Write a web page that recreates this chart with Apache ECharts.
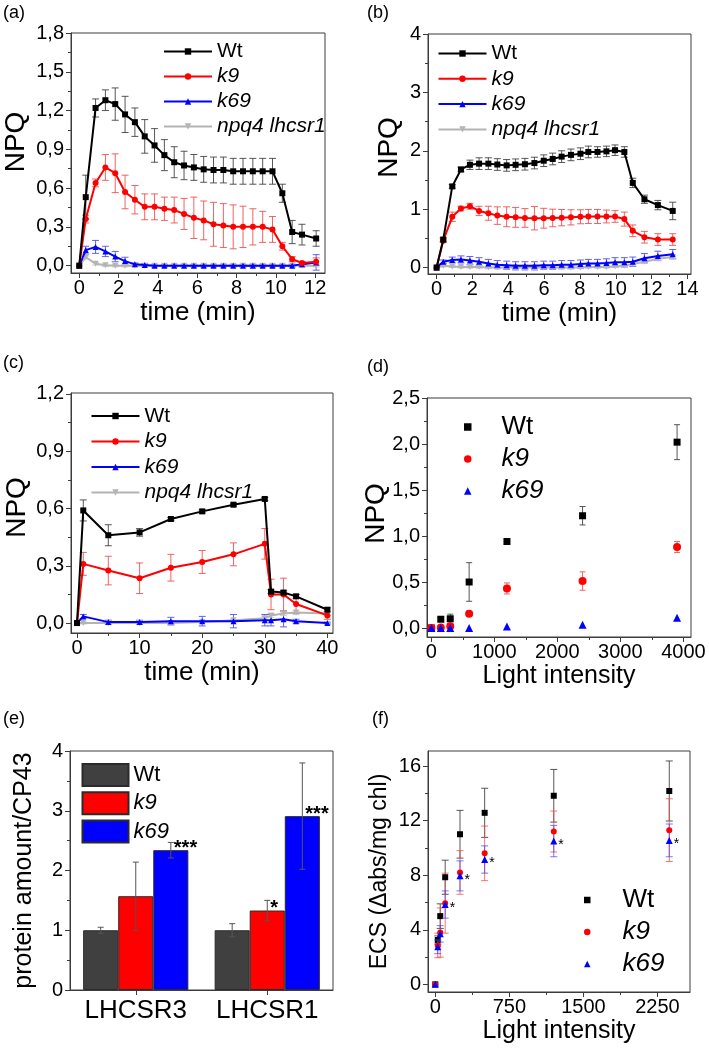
<!DOCTYPE html>
<html><head><meta charset="utf-8">
<script src="https://cdn.jsdelivr.net/npm/echarts@6/dist/echarts.min.js"></script>
<style>html,body{margin:0;padding:0;background:#fff}#c{width:709px;height:1051px}</style>
</head><body><div id="c"></div>
<script>
// ================= DATA =================
// (a) NPQ kinetics, time (min)
const a_time   = [0, 0.33, 0.83, 1.33, 1.83, 2.33, 2.83, 3.33, 3.83, 4.33, 4.83, 5.33, 5.83, 6.33, 6.83, 7.33, 7.83, 8.33, 8.83, 9.33, 9.83, 10.33, 10.83, 11.33, 12.05];
const a_wt     = [0, 0.53, 1.22, 1.28, 1.25, 1.17, 1.11, 1.00, 0.93, 0.855, 0.80, 0.775, 0.76, 0.745, 0.74, 0.74, 0.73, 0.73, 0.73, 0.73, 0.73, 0.56, 0.26, 0.24, 0.21];
const a_wt_err = [0, 0.17, 0.07, 0.08, 0.125, 0.14, 0.11, 0.13, 0.13, 0.12, 0.12, 0.11, 0.1, 0.1, 0.1, 0.1, 0.1, 0.1, 0.1, 0.1, 0.1, 0.07, 0.09, 0.08, 0.06];
const a_k9     = [0, 0.36, 0.64, 0.76, 0.715, 0.57, 0.51, 0.455, 0.455, 0.44, 0.43, 0.40, 0.37, 0.35, 0.32, 0.31, 0.30, 0.30, 0.30, 0.30, 0.28, 0.15, 0.05, 0.02, 0.03];
const a_k9_err = [0, 0.03, 0.03, 0.1, 0.15, 0.13, 0.11, 0.1, 0.1, 0.09, 0.1, 0.12, 0.16, 0.15, 0.17, 0.17, 0.17, 0.16, 0.14, 0.12, 0.1, 0.03, 0.02, 0.01, 0.03];
const a_k69    = [0, 0.12, 0.145, 0.11, 0.07, 0.035, 0.01, 0.005, 0, 0, 0, 0, 0, 0, 0, 0, 0, 0, 0, 0, 0, 0, 0, 0.01, 0.025];
const a_k69_err= [0, 0.03, 0.05, 0.04, 0.04, 0.03, 0.01, 0.01, 0.01, 0.01, 0.01, 0.01, 0.01, 0.01, 0.01, 0.01, 0.01, 0.01, 0.01, 0.01, 0.01, 0.01, 0.01, 0.02, 0.06];
const a_npq4   = [0, 0.065, 0.015, 0.003, 0, 0, 0, 0, 0, 0, 0, 0, 0, 0, 0, 0, 0, 0, 0, 0, 0, 0, 0, 0, 0];
const a_npq4_err=[0, 0.01, 0.01, 0.01, 0.01, 0.01, 0.01, 0.01, 0.01, 0.01, 0.01, 0.01, 0.01, 0.01, 0.01, 0.01, 0.01, 0.01, 0.01, 0.01, 0.01, 0.01, 0.01, 0.01, 0.01];

// (b) NPQ kinetics, time (min)
const b_time   = [0, 0.37, 0.875, 1.36, 1.86, 2.37, 2.89, 3.39, 3.91, 4.41, 4.93, 5.46, 5.98, 6.48, 6.98, 7.5, 8.03, 8.47, 8.98, 9.48, 9.96, 10.48, 10.95, 11.6, 12.35, 13.18];
const b_wt     = [0, 0.48, 1.39, 1.68, 1.76, 1.78, 1.78, 1.765, 1.75, 1.76, 1.77, 1.79, 1.83, 1.86, 1.90, 1.93, 1.95, 1.98, 1.98, 1.99, 2.01, 1.98, 1.45, 1.17, 1.07, 0.97];
const b_wt_err = [0, 0.03, 0.03, 0.04, 0.08, 0.1, 0.1, 0.1, 0.1, 0.1, 0.1, 0.1, 0.1, 0.1, 0.1, 0.1, 0.1, 0.1, 0.09, 0.09, 0.09, 0.09, 0.08, 0.07, 0.08, 0.15];
const b_k9     = [0, 0.46, 0.87, 1.01, 1.05, 0.97, 0.93, 0.89, 0.87, 0.86, 0.85, 0.845, 0.845, 0.85, 0.855, 0.86, 0.87, 0.875, 0.875, 0.875, 0.875, 0.83, 0.63, 0.52, 0.48, 0.48];
const b_k9_err = [0, 0.03, 0.08, 0.04, 0.05, 0.08, 0.12, 0.15, 0.17, 0.17, 0.16, 0.2, 0.17, 0.15, 0.14, 0.13, 0.12, 0.12, 0.12, 0.11, 0.1, 0.12, 0.1, 0.1, 0.1, 0.1];
const b_k69    = [0, 0.1, 0.13, 0.14, 0.12, 0.1, 0.07, 0.05, 0.04, 0.03, 0.03, 0.03, 0.04, 0.04, 0.05, 0.05, 0.06, 0.07, 0.07, 0.08, 0.09, 0.09, 0.1, 0.16, 0.2, 0.23];
const b_k69_err= [0, 0.03, 0.05, 0.06, 0.07, 0.07, 0.07, 0.07, 0.07, 0.07, 0.07, 0.07, 0.07, 0.07, 0.07, 0.07, 0.07, 0.07, 0.07, 0.07, 0.08, 0.08, 0.08, 0.08, 0.08, 0.08];
const b_npq4   = [0, 0.03, 0.02, 0.01, 0.01, 0.01, 0, 0, 0, 0, 0, 0, 0, 0, 0, 0, 0, 0.01, 0.01, 0.01, 0.02, 0.03, 0.06, 0.1, 0.15, 0.18];
const b_npq4_err=[0, 0.02, 0.02, 0.02, 0.02, 0.02, 0.02, 0.02, 0.02, 0.02, 0.02, 0.02, 0.02, 0.02, 0.02, 0.02, 0.02, 0.02, 0.02, 0.02, 0.02, 0.02, 0.03, 0.03, 0.03, 0.03];

// (c) NPQ kinetics, time (min)
const c_time   = [0, 1, 5, 10, 15, 20, 25, 30, 31, 33, 35, 40];
const c_wt     = [0, 0.59, 0.46, 0.475, 0.545, 0.585, 0.62, 0.65, 0.165, 0.16, 0.14, 0.07];
const c_wt_err = [0, 0.055, 0.055, 0.02, 0.008, 0.008, 0.008, 0.008, 0.01, 0.01, 0.01, 0.01];
const c_k9     = [0, 0.31, 0.275, 0.235, 0.29, 0.32, 0.36, 0.415, 0.15, 0.15, 0.10, 0.04];
const c_k9_err = [0, 0.06, 0.075, 0.08, 0.07, 0.06, 0.06, 0.08, 0.08, 0.085, 0.05, 0.02];
const c_k69    = [0, 0.035, 0.005, 0.005, 0.01, 0.01, 0.01, 0.015, 0.015, 0.02, 0.01, 0];
const c_k69_err= [0, 0.01, 0.01, 0.01, 0.02, 0.025, 0.035, 0.03, 0.03, 0.04, 0.01, 0.005];
const c_npq4   = [0, 0, 0, 0, 0, 0.005, 0.015, 0.025, 0.04, 0.05, 0.055, 0.05];
const c_npq4_err=[0, 0.005, 0.005, 0.005, 0.005, 0.005, 0.005, 0.01, 0.01, 0.01, 0.01, 0.01];

// (d) NPQ vs light intensity
const d_light  = [0, 150, 300, 600, 1200, 2400, 3900];
const d_wt     = [0, 0.095, 0.10, 0.50, 0.94, 1.22, 2.02];
const d_wt_err = [0, 0.02, 0.05, 0.21, 0.03, 0.1, 0.19];
const d_k9     = [0, 0.005, 0.02, 0.155, 0.43, 0.51, 0.88];
const d_k9_err = [0, 0.01, 0.02, 0.02, 0.06, 0.1, 0.06];
const d_k69    = [0, 0, 0, 0, 0.015, 0.035, 0.11];

// (e) protein amount / CP43
const e_categories = ['LHCSR3', 'LHCSR1'];
const e_wt      = [1.0, 1.0];
const e_wt_err  = [0.05, 0.11];
const e_k9      = [1.57, 1.33];
const e_k9_err  = [0.57, 0.17];
const e_k69     = [2.34, 2.91];
const e_k69_err = [0.13, 0.89];
const e_wt_sig  = ['', ''];
const e_k9_sig  = ['', '*'];
const e_k69_sig = ['***', '***'];

// (f) ECS vs light intensity
const f_light   = [0, 25, 50, 100, 250, 500, 1200, 2370];
const f_wt      = [0, 3.25, 5.0, 7.85, 11.0, 12.57, 13.82, 14.17];
const f_wt_err  = [0, 0.3, 0.9, 1.25, 1.75, 1.8, 1.93, 2.2];
const f_k9      = [0, 2.85, 3.8, 5.95, 8.2, 9.6, 11.2, 11.3];
const f_k9_err  = [0, 0.9, 1.8, 2.2, 1.6, 2.0, 1.5, 2.3];
const f_k69     = [0, 2.75, 3.7, 5.85, 7.95, 9.15, 10.5, 10.55];
const f_k69_err = [0, 0.5, 0.6, 1.0, 1.1, 1.0, 1.15, 1.2];
const f_k69_sig = ['', '', '', '*', '*', '*', '*', '*'];

// tick values
const a_xticks = [0, 2, 4, 6, 8, 10, 12], a_xminor = [1, 3, 5, 7, 9, 11];
const a_yticks = [0, 0.3, 0.6, 0.9, 1.2, 1.5, 1.8], a_yminor = [0.15, 0.45, 0.75, 1.05, 1.35, 1.65];
const b_xticks = [0, 2, 4, 6, 8, 10, 12, 14], b_xminor = [1, 3, 5, 7, 9, 11, 13];
const b_yticks = [0, 1, 2, 3, 4], b_yminor = [0.5, 1.5, 2.5, 3.5];
const c_xticks = [0, 10, 20, 30, 40], c_xminor = [5, 15, 25, 35];
const c_yticks = [0, 0.3, 0.6, 0.9, 1.2], c_yminor = [0.15, 0.45, 0.75, 1.05];
const d_xticks = [0, 1000, 2000, 3000, 4000], d_xminor = [500, 1500, 2500, 3500];
const d_yticks = [0, 0.5, 1.0, 1.5, 2.0, 2.5], d_yminor = [0.25, 0.75, 1.25, 1.75, 2.25];
const e_yticks = [0, 1, 2, 3, 4], e_yminor = [0.5, 1.5, 2.5, 3.5];
const f_xticks = [0, 750, 1500, 2250], f_xminor = [375, 1125, 1875];
const f_yticks = [0, 4, 8, 12, 16], f_yminor = [2, 6, 10, 14];

// ================= BUILD =================
const FONT = "'Liberation Sans', Arial, Helvetica, sans-serif";
const AX = '#3c3c3c';
const COL = { Wt: '#000000', k9: '#ff0000', k69: '#0000ff', npq4: '#b4b4b4' };
const ERR = { Wt: '#3a3a3a', k9: '#f04848', k69: '#4848f0', npq4: '#c4c4c4' };

const comma1 = v => v.toFixed(1).replace('.', ',');
const intf = v => String(Math.round(v));

const xAxes = [], yAxes = [], series = [], legends = [], grids = [], titles = [];

function addValueAxis(list, dim, gi, o) {
  const pos = dim === 'x' ? 'bottom' : 'left';
  const idx = list.length;
  list.push({
    type: 'value', gridIndex: gi, min: o.min, max: o.max, position: pos,
    axisLine: { show: true, onZero: false, lineStyle: { color: AX, width: 1 } },
    axisTick: { show: true, inside: false, length: 5, customValues: o.ticks, lineStyle: { color: AX, width: 1 } },
    axisLabel: { show: true, customValues: o.ticks, formatter: o.fmt, fontSize: 20, fontWeight: 'normal', fontFamily: FONT, color: '#000', margin: dim === 'x' ? 5 : 7, hideOverlap: false },
    splitLine: { show: false },
    name: o.name, nameLocation: 'middle', nameGap: o.nameGap, nameMoveOverlap: false,
    nameTextStyle: { fontSize: o.nameSize, fontWeight: 'normal', fontFamily: FONT, color: '#000', padding: o.namePad || 0 }
  });
  list.push({
    type: 'value', gridIndex: gi, min: o.min, max: o.max, position: pos,
    axisLine: { show: false, onZero: false },
    axisTick: { show: true, inside: false, length: 3, customValues: o.minor, lineStyle: { color: AX, width: 1 } },
    axisLabel: { show: false }, splitLine: { show: false }
  });
  return idx;
}

function errBar(color, cap, opacity, barIdx) {
  return function (params, api) {
    const x = api.value(0), y = api.value(1), e = api.value(2);
    if (!e) return null;
    let dx = 0;
    if (barIdx !== undefined) {
      const bw = api.size([1, 0])[0] * 0.8 / 3;
      dx = (barIdx - 1) * bw;
    }
    const p1 = api.coord([x, y - e]), p2 = api.coord([x, y + e]);
    const st = { stroke: color, lineWidth: 1, opacity: opacity };
    const cx = p1[0] + dx;
    return { type: 'group', children: [
      { type: 'line', shape: { x1: cx, y1: p1[1], x2: cx, y2: p2[1] }, style: st },
      { type: 'line', shape: { x1: cx - cap / 2, y1: p1[1], x2: cx + cap / 2, y2: p1[1] }, style: st },
      { type: 'line', shape: { x1: cx - cap / 2, y1: p2[1], x2: cx + cap / 2, y2: p2[1] }, style: st }
    ] };
  };
}

function legendFmt(name) {
  const b = name.split('#')[0];
  return b === 'Wt' ? '{n|' + b + '}' : '{i|' + b + '}';
}
function legendText(size, padLeft) {
  const pad = [0, 0, 0, padLeft || 0];
  return { fontSize: size, lineHeight: size, fontFamily: FONT, fontWeight: 'normal', color: '#000',
    rich: { n: { fontSize: size, lineHeight: size, fontFamily: FONT, fontWeight: 'normal', color: '#000', padding: pad },
            i: { fontSize: size, lineHeight: size, fontFamily: FONT, fontWeight: 'normal', color: '#000', fontStyle: 'italic', padding: pad } } };
}

function addTitle(text, left, top) {
  titles.push({ text: text, left: left, top: top, padding: 0,
    textStyle: { fontSize: 18, fontWeight: 'normal', fontFamily: FONT, color: '#000' } });
}

// ---- line panels (a), (b), (c) ----
function linePanel(key, grid, xo, yo, xs, sets, leg) {
  const gi = grids.length;
  grids.push(Object.assign({ show: true, borderColor: AX, borderWidth: 1, backgroundColor: 'transparent', outerBoundsMode: 'none' }, grid));
  const xi = addValueAxis(xAxes, 'x', gi, xo);
  const yi = addValueAxis(yAxes, 'y', gi, yo);
  sets.forEach(function (s, k) {
    series.push({ type: 'custom', name: 'err', xAxisIndex: xi, yAxisIndex: yi, silent: true, z: 2,
      data: xs.map((x, i) => [x, s.vals[i], s.errs[i]]), encode: { x: 0, y: 1 },
      renderItem: errBar(ERR[s.c], 7, 0.85) });
    series.push({ type: 'line', name: s.name + '#' + key, xAxisIndex: xi, yAxisIndex: yi, silent: true, z: 3 + s.z,
      data: xs.map((x, i) => [x, s.vals[i]]), symbol: s.symbol, symbolRotate: s.rot || 0, symbolSize: 6,
      showAllSymbol: true, lineStyle: { color: COL[s.c], width: 2 }, itemStyle: { color: COL[s.c] } });
  });
  legends.push(Object.assign({ orient: 'vertical', itemWidth: 48, itemHeight: 8, padding: 0, selectedMode: false,
    data: sets.map(s => s.name + '#' + key), formatter: legendFmt, textStyle: legendText(21) }, leg));
}

function npqSets(wt, wte, k9, k9e, k69, k69e, n4, n4e) {
  return [
    { name: 'Wt', c: 'Wt', vals: wt, errs: wte, symbol: 'rect', z: 3 },
    { name: 'k9', c: 'k9', vals: k9, errs: k9e, symbol: 'circle', z: 2 },
    { name: 'k69', c: 'k69', vals: k69, errs: k69e, symbol: 'triangle', z: 1 },
    { name: 'npq4 lhcsr1', c: 'npq4', vals: n4, errs: n4e, symbol: 'triangle', rot: 180, z: 0 }
  ];
}

linePanel('a', { left: 71, top: 33, width: 254, height: 240 },
  { min: -0.42, max: 12.5, ticks: a_xticks, minor: a_xminor, fmt: intf, name: 'time (min)', nameGap: 27, nameSize: 26 },
  { min: -0.057, max: 1.8, ticks: a_yticks, minor: a_yminor, fmt: comma1, name: 'NPQ', nameGap: 41, nameSize: 28, namePad: [0, 0, 0, 22] },
  a_time, npqSets(a_wt, a_wt_err, a_k9, a_k9_err, a_k69, a_k69_err, a_npq4, a_npq4_err),
  { left: 163, top: 41, itemGap: 4 });

linePanel('b', { left: 428, top: 34, width: 263, height: 240 },
  { min: -0.48, max: 14.2, ticks: b_xticks, minor: b_xminor, fmt: intf, name: 'time (min)', nameGap: 27, nameSize: 26 },
  { min: -0.11, max: 4.0, ticks: b_yticks, minor: b_yminor, fmt: intf, name: 'NPQ', nameGap: 25, nameSize: 28, namePad: [0, 0, 0, 13] },
  b_time, npqSets(b_wt, b_wt_err, b_k9, b_k9_err, b_k69, b_k69_err, b_npq4, b_npq4_err),
  { left: 437.5, top: 43, itemGap: 4.3 });

linePanel('c', { left: 71, top: 393, width: 262, height: 240 },
  { min: -0.96, max: 40.9, ticks: c_xticks, minor: c_xminor, fmt: intf, name: 'time (min)', nameGap: 27, nameSize: 26 },
  { min: -0.052, max: 1.205, ticks: c_yticks, minor: c_yminor, fmt: comma1, name: 'NPQ', nameGap: 40, nameSize: 28, namePad: [0, 0, 0, 11] },
  c_time, npqSets(c_wt, c_wt_err, c_k9, c_k9_err, c_k69, c_k69_err, c_npq4, c_npq4_err),
  { left: 90.5, top: 405.5, itemGap: 4.5 });

// ---- scatter panels (d), (f) ----
function scatterPanel(key, grid, xo, yo, xs, sets, leg, cap, padLeft) {
  const gi = grids.length;
  grids.push(Object.assign({ show: true, borderColor: AX, borderWidth: 1, backgroundColor: 'transparent', outerBoundsMode: 'none' }, grid));
  const xi = addValueAxis(xAxes, 'x', gi, xo);
  const yi = addValueAxis(yAxes, 'y', gi, yo);
  sets.forEach(function (s) {
    if (s.errs) {
      series.push({ type: 'custom', name: 'err', xAxisIndex: xi, yAxisIndex: yi, silent: true, z: 2 + s.z,
        data: xs.map((x, i) => [x, s.vals[i], s.errs[i]]), encode: { x: 0, y: 1 },
        renderItem: errBar(ERR[s.c], cap, s.errOp || 0.85) });
    }
    const ser = { type: 'scatter', name: s.name + '#' + key, xAxisIndex: xi, yAxisIndex: yi, silent: true, z: 3 + s.z,
      data: xs.map((x, i) => [x, s.vals[i]]), symbol: s.symbol, symbolSize: s.size, itemStyle: { color: COL[s.c], opacity: 1 } };
    if (s.sig) {
      const sig = s.sig;
      ser.label = { show: true, position: 'right', distance: 1, offset: [0, 4], formatter: p => sig[p.dataIndex],
        fontSize: 14, fontFamily: FONT, color: '#000' };
    }
    series.push(ser);
  });
  legends.push(Object.assign({ orient: 'vertical', padding: 0, selectedMode: false, symbolKeepAspect: true,
    data: sets.map(s => s.name + '#' + key), formatter: legendFmt, textStyle: legendText(26, padLeft) }, leg));
}

scatterPanel('d', { left: 427, top: 398, width: 264, height: 239 },
  { min: -69, max: 4121, ticks: d_xticks, minor: d_xminor, fmt: intf, name: 'Light intensity', nameGap: 27, nameSize: 25 },
  { min: -0.098, max: 2.5, ticks: d_yticks, minor: d_yminor, fmt: comma1, name: 'NPQ', nameGap: 37, nameSize: 28, namePad: [0, 0, 0, 8] },
  d_light, [
    { name: 'Wt', c: 'Wt', vals: d_wt, errs: d_wt_err, symbol: 'rect', size: 7, z: 1 },
    { name: 'k9', c: 'k9', vals: d_k9, errs: d_k9_err, symbol: 'circle', size: 8, z: 2 },
    { name: 'k69', c: 'k69', vals: d_k69, symbol: 'triangle', size: 8, z: 3 }
  ], { left: 464, top: 414, itemWidth: 7.5, itemHeight: 7.5, itemGap: 6 }, 6, 25);

scatterPanel('f', { left: 428, top: 751, width: 262, height: 241 },
  { min: -74, max: 2580, ticks: f_xticks, minor: f_xminor, fmt: intf, name: 'Light intensity', nameGap: 27, nameSize: 25 },
  { min: -0.56, max: 17.1, ticks: f_yticks, minor: f_yminor, fmt: intf, name: 'ECS (Δabs/mg chl)', nameGap: 37, nameSize: 23 },
  f_light, [
    { name: 'Wt', c: 'Wt', vals: f_wt, errs: f_wt_err, symbol: 'rect', size: 6, z: 1 },
    { name: 'k9', c: 'k9', vals: f_k9, errs: f_k9_err, symbol: 'circle', size: 6, z: 2, errOp: 0.75 },
    { name: 'k69', c: 'k69', vals: f_k69, errs: f_k69_err, symbol: 'triangle', size: 7, z: 3, errOp: 0.75, sig: f_k69_sig }
  ], { left: 584, top: 887, itemWidth: 6.5, itemHeight: 6.5, itemGap: 6 }, 7, 27);

// ---- bar panel (e) ----
(function () {
  const gi = grids.length;
  grids.push({ show: true, borderColor: AX, borderWidth: 1, backgroundColor: 'transparent', outerBoundsMode: 'none', left: 70, top: 751, width: 263, height: 239 });
  const xi = xAxes.length;
  xAxes.push({ type: 'category', gridIndex: gi, data: e_categories, position: 'bottom',
    axisLine: { show: true, onZero: false, lineStyle: { color: AX, width: 1 } },
    axisTick: { show: true, alignWithLabel: true, interval: 0, length: 5, lineStyle: { color: AX } },
    axisLabel: { fontSize: 26, fontWeight: 'normal', fontFamily: FONT, color: '#000', margin: 8, interval: 0 },
    splitLine: { show: false } });
  const yi = addValueAxis(yAxes, 'y', gi, { min: 0, max: 4, ticks: e_yticks, minor: e_yminor, fmt: intf,
    name: 'protein amount/CP43', nameGap: 33, nameSize: 25 });
  const sets = [
    { name: 'Wt', color: '#404040', vals: e_wt, errs: e_wt_err, sig: e_wt_sig },
    { name: 'k9', color: '#ff0000', vals: e_k9, errs: e_k9_err, sig: e_k9_sig },
    { name: 'k69', color: '#0000ff', vals: e_k69, errs: e_k69_err, sig: e_k69_sig }
  ];
  sets.forEach(function (s, k) {
    const sig = s.sig;
    series.push({ type: 'bar', name: s.name + '#e', xAxisIndex: xi, yAxisIndex: yi, silent: true, z: 2,
      data: s.vals.slice(), barGap: '0%', barCategoryGap: '20%',
      itemStyle: { color: s.color, borderColor: '#2a2a2a', borderWidth: 1 },
      label: { show: true, position: 'top', distance: 0, offset: [3, 8], align: 'left',
        formatter: p => sig[p.dataIndex], fontSize: 20, fontWeight: 'bold', fontFamily: FONT, color: '#000' } });
  });
  sets.forEach(function (s, k) {
    series.push({ type: 'custom', name: 'err', xAxisIndex: xi, yAxisIndex: yi, silent: true, z: 4,
      data: s.vals.map((v, i) => [i, v, s.errs[i]]), encode: { x: 0, y: 1 },
      renderItem: errBar('#555555', 6, 1, k) });
  });
  legends.push({ orient: 'vertical', left: 81.5, top: 763, itemWidth: 46, itemHeight: 22, itemGap: 4.3, icon: 'rect',
    padding: 0, selectedMode: false, data: sets.map(s => s.name + '#e'), formatter: legendFmt, textStyle: legendText(22) });
})();

addTitle('(a)', 3, 4);
addTitle('(b)', 367, 4);
addTitle('(c)', 3, 354);
addTitle('(d)', 367, 358);
addTitle('(e)', 3, 710);
addTitle('(f)', 372, 710);

const chart = echarts.init(document.getElementById('c'), null, { renderer: 'canvas', width: 709, height: 1051 });
chart.setOption({
  backgroundColor: '#ffffff',
  animation: false,
  textStyle: { fontFamily: FONT },
  title: titles,
  grid: grids,
  xAxis: xAxes,
  yAxis: yAxes,
  legend: legends,
  tooltip: { show: false },
  series: series
});
</script>
</body></html>
